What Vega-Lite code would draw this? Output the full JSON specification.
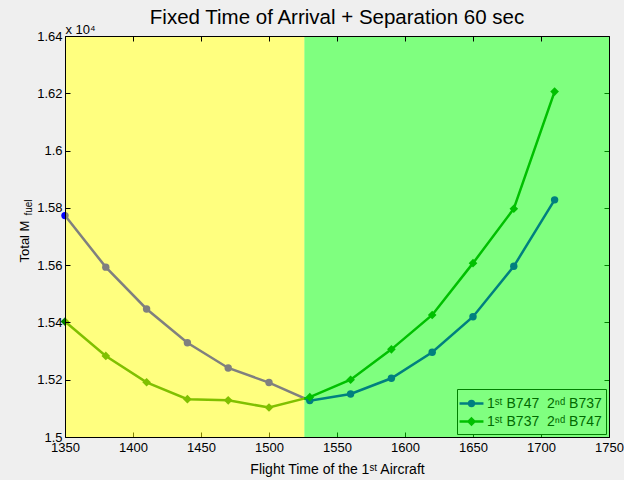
{
  "$schema": "https://vega.github.io/schema/vega-lite/v6.json",
  "width": 544,
  "height": 401,
  "autosize": {"type": "none"},
  "padding": {"left": 65, "top": 36, "right": 15, "bottom": 43},
  "background": "#efefef",
  "title": {"text": "Fixed Time of Arrival + Separation 60 sec", "fontSize": 20.5, "font": "Liberation Sans", "fontWeight": "normal", "color": "black", "anchor": "middle", "frame": "group", "offset": -5},
  "config": {
    "view": {"fill": "white", "stroke": null},
    "font": "Liberation Sans",
    "axis": {"labelFont": "Liberation Sans", "labelFontSize": 13, "labelColor": "black", "labelFlush": false, "titleFont": "Liberation Sans", "titleFontWeight": "normal", "titleColor": "black", "domainColor": "black", "tickColor": "black", "grid": false}
  },
  "datasets": {
    "fuel": [
      {"t": 1350, "series": "1ˢᵗ B747\u00a0\u00a02ⁿᵈ B737", "fuel": 1.5773},
      {"t": 1380, "series": "1ˢᵗ B747\u00a0\u00a02ⁿᵈ B737", "fuel": 1.5593},
      {"t": 1410, "series": "1ˢᵗ B747\u00a0\u00a02ⁿᵈ B737", "fuel": 1.5447},
      {"t": 1440, "series": "1ˢᵗ B747\u00a0\u00a02ⁿᵈ B737", "fuel": 1.5329},
      {"t": 1470, "series": "1ˢᵗ B747\u00a0\u00a02ⁿᵈ B737", "fuel": 1.5241},
      {"t": 1500, "series": "1ˢᵗ B747\u00a0\u00a02ⁿᵈ B737", "fuel": 1.5190},
      {"t": 1530, "series": "1ˢᵗ B747\u00a0\u00a02ⁿᵈ B737", "fuel": 1.5127},
      {"t": 1560, "series": "1ˢᵗ B747\u00a0\u00a02ⁿᵈ B737", "fuel": 1.5150},
      {"t": 1590, "series": "1ˢᵗ B747\u00a0\u00a02ⁿᵈ B737", "fuel": 1.5205},
      {"t": 1620, "series": "1ˢᵗ B747\u00a0\u00a02ⁿᵈ B737", "fuel": 1.5296},
      {"t": 1650, "series": "1ˢᵗ B747\u00a0\u00a02ⁿᵈ B737", "fuel": 1.5420},
      {"t": 1680, "series": "1ˢᵗ B747\u00a0\u00a02ⁿᵈ B737", "fuel": 1.5596},
      {"t": 1710, "series": "1ˢᵗ B747\u00a0\u00a02ⁿᵈ B737", "fuel": 1.5828},
      {"t": 1350, "series": "1ˢᵗ B737\u00a0\u00a02ⁿᵈ B747", "fuel": 1.5403},
      {"t": 1380, "series": "1ˢᵗ B737\u00a0\u00a02ⁿᵈ B747", "fuel": 1.5283},
      {"t": 1410, "series": "1ˢᵗ B737\u00a0\u00a02ⁿᵈ B747", "fuel": 1.5191},
      {"t": 1440, "series": "1ˢᵗ B737\u00a0\u00a02ⁿᵈ B747", "fuel": 1.5132},
      {"t": 1470, "series": "1ˢᵗ B737\u00a0\u00a02ⁿᵈ B747", "fuel": 1.5128},
      {"t": 1500, "series": "1ˢᵗ B737\u00a0\u00a02ⁿᵈ B747", "fuel": 1.5103},
      {"t": 1530, "series": "1ˢᵗ B737\u00a0\u00a02ⁿᵈ B747", "fuel": 1.5139},
      {"t": 1560, "series": "1ˢᵗ B737\u00a0\u00a02ⁿᵈ B747", "fuel": 1.5200},
      {"t": 1590, "series": "1ˢᵗ B737\u00a0\u00a02ⁿᵈ B747", "fuel": 1.5306},
      {"t": 1620, "series": "1ˢᵗ B737\u00a0\u00a02ⁿᵈ B747", "fuel": 1.5426},
      {"t": 1650, "series": "1ˢᵗ B737\u00a0\u00a02ⁿᵈ B747", "fuel": 1.5607},
      {"t": 1680, "series": "1ˢᵗ B737\u00a0\u00a02ⁿᵈ B747", "fuel": 1.5797},
      {"t": 1710, "series": "1ˢᵗ B737\u00a0\u00a02ⁿᵈ B747", "fuel": 1.6206}
    ],
    "regions": [
      {"region": "left", "start": 1350, "end": 1526},
      {"region": "right", "start": 1526, "end": 1750}
    ]
  },
  "layer": [
    {
      "data": {"name": "fuel"},
      "mark": {"type": "line", "strokeWidth": 2.5},
      "encoding": {
        "x": {"field": "t", "type": "quantitative", "scale": {"domain": [1350, 1750], "nice": false, "zero": false},
          "axis": {"orient": "bottom", "values": [1350, 1400, 1450, 1500, 1550, 1600, 1650, 1700, 1750], "format": "d", "tickSize": -5, "labelPadding": 9, "title": "Flight Time of the 1ˢᵗ Aircraft", "titleFontSize": 14, "titleX": 272, "titleY": 36, "titleBaseline": "alphabetic", "titleAlign": "center", "zindex": 0}},
        "y": {"field": "fuel", "type": "quantitative", "scale": {"domain": [1.5, 1.64], "nice": false, "zero": false},
          "axis": {"orient": "left", "values": [1.5, 1.52, 1.54, 1.56, 1.58, 1.6, 1.62, 1.64], "format": ".4~g", "tickSize": -5, "labelPadding": 8, "title": "x 10⁴", "titleFontSize": 13, "titleAngle": 0, "titleAlign": "left", "titleBaseline": "alphabetic", "titleX": 0, "titleY": -3, "zindex": 1}},
        "color": {"field": "series", "type": "nominal",
          "scale": {"domain": ["1ˢᵗ B737\u00a0\u00a02ⁿᵈ B747", "1ˢᵗ B747\u00a0\u00a02ⁿᵈ B737"], "range": ["#008000", "#0000ff"]},
          "legend": null}
      }
    },
    {
      "data": {"name": "fuel"},
      "transform": [{"filter": "indexof(datum.series, 'B747') < indexof(datum.series, 'B737')"}],
      "mark": {"type": "point", "shape": "circle", "filled": true, "size": 55, "opacity": 1, "color": "#0000ff"},
      "encoding": {
        "x": {"field": "t", "type": "quantitative", "scale": {"domain": [1350, 1750], "nice": false, "zero": false},
          "axis": {"orient": "top", "values": [1350, 1400, 1450, 1500, 1550, 1600, 1650, 1700, 1750], "labels": false, "tickSize": -5, "title": null, "zindex": 1}},
        "y": {"field": "fuel", "type": "quantitative", "scale": {"domain": [1.5, 1.64], "nice": false, "zero": false},
          "axis": {"orient": "left", "labels": false, "ticks": false, "domain": false, "title": "Total M", "titleFontSize": 13, "titleAngle": -90, "titleX": -37, "titleY": 205, "titleAlign": "center", "titleBaseline": "alphabetic"}}
      }
    },
    {
      "data": {"name": "fuel"},
      "transform": [{"filter": "indexof(datum.series, 'B737') < indexof(datum.series, 'B747')"}],
      "mark": {"type": "point", "shape": "diamond", "filled": true, "size": 75, "opacity": 1, "color": "#008000"},
      "encoding": {
        "x": {"field": "t", "type": "quantitative", "scale": {"domain": [1350, 1750], "nice": false, "zero": false}, "axis": null},
        "y": {"field": "fuel", "type": "quantitative", "scale": {"domain": [1.5, 1.64], "nice": false, "zero": false}, "axis": null}
      }
    },
    {
      "data": {"name": "regions"},
      "mark": {"type": "rect", "opacity": 0.5},
      "encoding": {
        "x": {"field": "start", "type": "quantitative", "scale": {"domain": [1350, 1750], "nice": false, "zero": false}, "axis": null},
        "x2": {"field": "end"},
        "fill": {"field": "region", "type": "nominal", "scale": {"domain": ["left", "right"], "range": ["#ffff00", "#00ff00"]}, "legend": null}
      }
    },
    {
      "data": {"name": "fuel"},
      "mark": {"type": "point", "size": 0, "filled": false, "strokeWidth": 2.5},
      "encoding": {
        "x": {"field": "t", "type": "quantitative", "scale": {"domain": [1350, 1750], "nice": false, "zero": false}, "axis": null},
        "y": {"field": "fuel", "type": "quantitative", "scale": {"domain": [1.5, 1.64], "nice": false, "zero": false},
          "axis": {"orient": "right", "values": [1.5, 1.52, 1.54, 1.56, 1.58, 1.6, 1.62, 1.64], "labels": false, "tickSize": -5, "title": null, "zindex": 0}},
        "stroke": {"field": "series", "type": "nominal",
          "scale": {"domain": ["1ˢᵗ B747\u00a0\u00a02ⁿᵈ B737", "1ˢᵗ B737\u00a0\u00a02ⁿᵈ B747"], "range": ["#007f80", "#00c000"]},
          "legend": {"title": null, "orient": "bottom-right", "offset": 3, "fillColor": "#80ff80", "strokeColor": "#007f00", "padding": 4, "labelFontSize": 14, "labelFont": "Liberation Sans", "labelColor": "#006a00", "symbolSize": 324, "symbolStrokeWidth": 2.5, "symbolOpacity": 1, "rowPadding": 0, "labelOffset": 5}},
        "shape": {"field": "series", "type": "nominal",
          "scale": {"domain": ["1ˢᵗ B747\u00a0\u00a02ⁿᵈ B737", "1ˢᵗ B737\u00a0\u00a02ⁿᵈ B747"], "range": ["M-1.33,0L1.33,0M-0.27,0A0.27,0.27 0 1 1 0.27,0A0.27,0.27 0 1 1 -0.27,0Z", "M-1.33,0L1.33,0M0,-0.33L0.33,0L0,0.33L-0.33,0Z"]},
          "legend": {"title": null, "orient": "bottom-right", "offset": 3, "fillColor": "#80ff80", "strokeColor": "#007f00", "padding": 4, "labelFontSize": 14, "labelFont": "Liberation Sans", "labelColor": "#006a00", "symbolSize": 324, "symbolStrokeWidth": 2.5, "symbolOpacity": 1, "rowPadding": 0, "labelOffset": 5}}
      }
    },
    {
      "data": {"name": "fuel"},
      "mark": {"type": "point", "opacity": 0},
      "encoding": {
        "x": {"field": "t", "type": "quantitative", "scale": {"domain": [1350, 1750], "nice": false, "zero": false}, "axis": null},
        "y": {"field": "fuel", "type": "quantitative", "scale": {"domain": [1.5, 1.64], "nice": false, "zero": false},
          "axis": {"orient": "left", "labels": false, "ticks": false, "domain": false, "title": "fuel", "titleFontSize": 10, "titleAngle": -90, "titleX": -34, "titleY": 171, "titleAlign": "center", "titleBaseline": "alphabetic"}}
      }
    }
  ],
  "resolve": {"axis": {"x": "independent", "y": "independent"}}
}
